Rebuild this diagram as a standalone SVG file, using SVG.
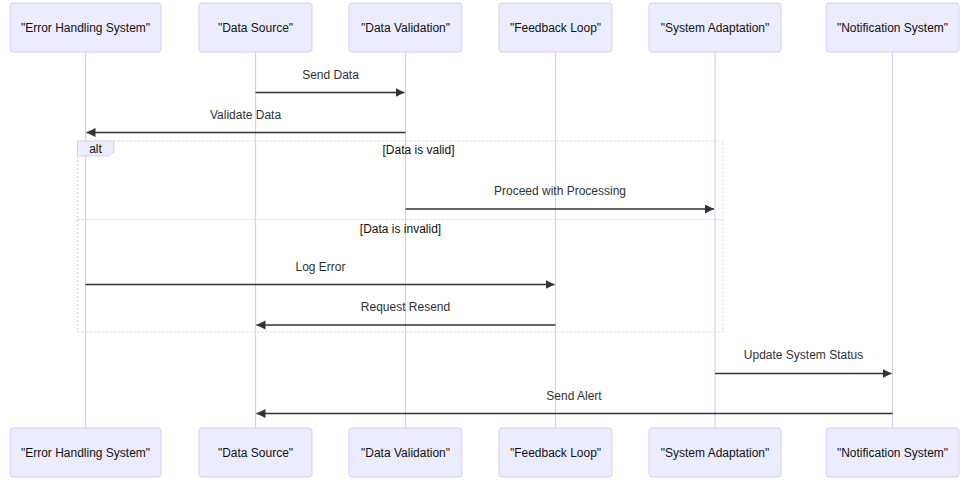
<svg xmlns="http://www.w3.org/2000/svg" width="975" height="492" viewBox="0 0 975 492">
<defs>
<style>
.actor{fill:#ECECFF;stroke:#D8D0F2;stroke-width:1}
.atext{font-family:"Liberation Sans",Arial,sans-serif;font-size:12px;fill:#111;text-anchor:middle;dominant-baseline:central}
.life{stroke:#D8D0F2;stroke-width:1.2}
.msg{stroke:#333;stroke-width:1.5;fill:none;marker-end:url(#arrow)}
.mtext{font-family:"Liberation Sans",Arial,sans-serif;font-size:12px;fill:#333;text-anchor:middle;dominant-baseline:central}
.loop{fill:none;stroke:#D8D0F2;stroke-width:1.2;stroke-dasharray:2,2}
.ltext{font-family:"Liberation Sans",Arial,sans-serif;font-size:12px;fill:#111;text-anchor:middle;dominant-baseline:central}
</style>
<marker id="arrow" markerUnits="userSpaceOnUse" markerWidth="10" markerHeight="10" refX="9" refY="4.5" orient="auto">
<path d="M0,0 L9,4.5 L0,9 z" fill="#333"/>
</marker>
</defs>
<rect width="975" height="492" fill="#fff"/>
<g id="lifelines">
<line class="life" x1="85.5" y1="52" x2="85.5" y2="428"/>
<line class="life" x1="255.5" y1="52" x2="255.5" y2="428"/>
<line class="life" x1="405.5" y1="52" x2="405.5" y2="428"/>
<line class="life" x1="555.5" y1="52" x2="555.5" y2="428"/>
<line class="life" x1="715" y1="52" x2="715" y2="428"/>
<line class="life" x1="892.5" y1="52" x2="892.5" y2="428"/>
</g>
<g id="actor-error-top"><rect class="actor" x="10" y="3" width="151" height="49" rx="3"/><text class="atext" x="85.5" y="27.5">"Error Handling System"</text></g>
<g id="actor-source-top"><rect class="actor" x="199" y="3" width="113" height="49" rx="3"/><text class="atext" x="255.5" y="27.5">"Data Source"</text></g>
<g id="actor-validation-top"><rect class="actor" x="349" y="3" width="113" height="49" rx="3"/><text class="atext" x="405.5" y="27.5">"Data Validation"</text></g>
<g id="actor-feedback-top"><rect class="actor" x="499" y="3" width="113" height="49" rx="3"/><text class="atext" x="555.5" y="27.5">"Feedback Loop"</text></g>
<g id="actor-adaptation-top"><rect class="actor" x="649" y="3" width="132" height="49" rx="3"/><text class="atext" x="715" y="27.5">"System Adaptation"</text></g>
<g id="actor-notification-top"><rect class="actor" x="826" y="3" width="133" height="49" rx="3"/><text class="atext" x="892.5" y="27.5">"Notification System"</text></g>
<g id="actor-error-bottom"><rect class="actor" x="10" y="428" width="151" height="49" rx="3"/><text class="atext" x="85.5" y="452.5">"Error Handling System"</text></g>
<g id="actor-source-bottom"><rect class="actor" x="199" y="428" width="113" height="49" rx="3"/><text class="atext" x="255.5" y="452.5">"Data Source"</text></g>
<g id="actor-validation-bottom"><rect class="actor" x="349" y="428" width="113" height="49" rx="3"/><text class="atext" x="405.5" y="452.5">"Data Validation"</text></g>
<g id="actor-feedback-bottom"><rect class="actor" x="499" y="428" width="113" height="49" rx="3"/><text class="atext" x="555.5" y="452.5">"Feedback Loop"</text></g>
<g id="actor-adaptation-bottom"><rect class="actor" x="649" y="428" width="132" height="49" rx="3"/><text class="atext" x="715" y="452.5">"System Adaptation"</text></g>
<g id="actor-notification-bottom"><rect class="actor" x="826" y="428" width="133" height="49" rx="3"/><text class="atext" x="892.5" y="452.5">"Notification System"</text></g>
<g id="alt-frame">
<rect class="loop" x="77.5" y="141" width="645.5" height="191"/>
<line class="loop" x1="77.5" y1="219.5" x2="723" y2="219.5"/>
<polygon points="77.5,141 114,141 114,152 109,156 77.5,156" fill="#ECECFF" stroke="#D8D0F2" stroke-width="1"/>
<text class="ltext" x="95.5" y="149">alt</text>
<text class="ltext" x="418.5" y="150">[Data is valid]</text>
<text class="ltext" x="400.5" y="229">[Data is invalid]</text>
</g>
<g id="connectors">
<line class="msg" x1="255.5" y1="92.5" x2="404.5" y2="92.5"/>
<text class="mtext" x="330.5" y="75">Send Data</text>
<line class="msg" x1="405.5" y1="132.5" x2="86.5" y2="132.5"/>
<text class="mtext" x="245.5" y="115">Validate Data</text>
<line class="msg" x1="405.5" y1="209" x2="714" y2="209"/>
<text class="mtext" x="560" y="191">Proceed with Processing</text>
<line class="msg" x1="85.5" y1="284.5" x2="554.5" y2="284.5"/>
<text class="mtext" x="320.5" y="267">Log Error</text>
<line class="msg" x1="555.5" y1="325" x2="256.5" y2="325"/>
<text class="mtext" x="405.5" y="307">Request Resend</text>
<line class="msg" x1="715" y1="373.5" x2="891.5" y2="373.5"/>
<text class="mtext" x="803.5" y="355">Update System Status</text>
<line class="msg" x1="892.5" y1="413.5" x2="256.5" y2="413.5"/>
<text class="mtext" x="574" y="396">Send Alert</text>
</g>
</svg>
